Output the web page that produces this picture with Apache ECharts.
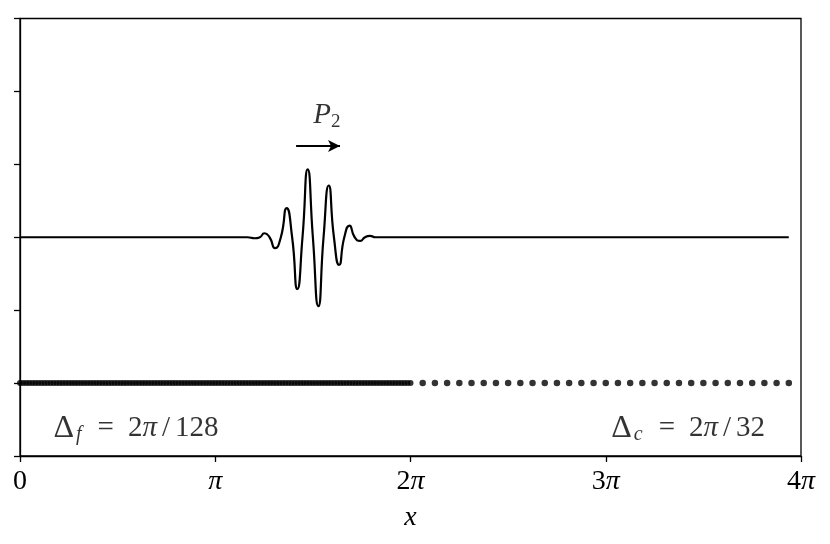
<!DOCTYPE html>
<html>
<head>
<meta charset="utf-8">
<script src="https://cdn.jsdelivr.net/npm/echarts@6/dist/echarts.min.js"></script>
<style>
  html, body { margin: 0; padding: 0; background: #fff; }
  #chart { width: 830px; height: 544px; }
</style>
</head>
<body>
<div id="chart"></div>
<script>
// x is measured in units of pi/64 (the fine grid spacing), so 4pi = 256
const xTicks = [0, 64, 128, 192, 256]
const xTickLabels = ['0', 'π', '2π', '3π', '4π']

// fine grid points, 0 .. 2pi
const fineGridX = [0,1,2,3,4,5,6,7,8,9,10,11,12,13,14,15,16,17,18,19,20,21,22,23,24,25,26,27,28,29,30,31,32,33,34,35,36,37,38,39,40,41,42,43,44,45,46,47,48,49,50,51,52,53,54,55,56,57,58,59,60,61,62,63,64,65,66,67,68,69,70,71,72,73,74,75,76,77,78,79,80,81,82,83,84,85,86,87,88,89,90,91,92,93,94,95,96,97,98,99,100,101,102,103,104,105,106,107,108,109,110,111,112,113,114,115,116,117,118,119,120,121,122,123,124,125,126,127,128]
// coarse grid points, 2pi .. 4pi
const coarseGridX = [132,136,140,144,148,152,156,160,164,168,172,176,180,184,188,192,196,200,204,208,212,216,220,224,228,232,236,240,244,248,252]
const gridRowY = -2

// wave packet (extrema and zero crossings)
const waveX = [0, 70, 74.5, 77.0, 78.6, 80.1, 81.8, 83.6, 85.5, 87.4, 89.2, 90.9, 92.6, 94.3, 96.0, 97.8, 99.5, 101.2, 102.9, 104.6, 106.3, 108.0, 109.7, 111.5, 113.1, 114.7, 116.5, 120, 252]
const waveY = [0, 0, 0, -0.014, 0, 0.055, 0, -0.15, 0, 0.40, 0, -0.71, 0, 0.93, 0, -0.945, 0, 0.71, 0, -0.38, 0, 0.16, 0, -0.05, 0, 0.02, 0, 0, 0]

const chart = echarts.init(document.getElementById('chart'))

const serif = 'Liberation Serif'
const mathRich = {
  m: { fontFamily: serif, fontSize: 29, color: '#000' },
  d: { fontFamily: serif, fontSize: 32, color: '#000', padding: [0, 2, 0, 0] },
  eq: { fontFamily: serif, fontSize: 29, color: '#000', padding: [0, 14, 0, 14] },
  sl: { fontFamily: serif, fontSize: 29, color: '#000', padding: [0, 5, 0, 5] },
  i: { fontFamily: serif, fontSize: 29, fontStyle: 'italic', color: '#000' },
  s: { fontFamily: serif, fontSize: 20, fontStyle: 'italic', color: '#000', padding: [13, 2, 0, 0] },
  n: { fontFamily: serif, fontSize: 19, color: '#000', padding: [13, 0, 0, 0] }
}

const option = {
  animation: false,
  backgroundColor: '#fff',
  grid: {
    left: 20,
    right: 29,
    top: 18.5,
    bottom: 88,
    show: true,
    borderColor: '#000',
    borderWidth: 1.3
  },
  xAxis: {
    type: 'value',
    min: 0,
    max: 256,
    interval: 64,
    name: 'x',
    nameLocation: 'middle',
    nameGap: 48,
    nameTextStyle: { fontFamily: serif, fontSize: 28, fontStyle: 'italic', color: '#000' },
    axisLine: { onZero: false, lineStyle: { color: '#000', width: 1.3 } },
    axisTick: { length: 6, lineStyle: { color: '#000', width: 1.3 } },
    axisLabel: {
      margin: 12,
      fontFamily: serif,
      fontSize: 28,
      color: '#000',
      formatter: function(v) {
        const idx = xTicks.indexOf(v)
        if (idx < 0) return ''
        return xTickLabels[idx].replace('π', '{p|π}')
      },
      rich: {
        p: { fontFamily: serif, fontSize: 28, fontStyle: 'italic', color: '#000' }
      }
    },
    splitLine: { show: false }
  },
  yAxis: {
    type: 'value',
    min: -3,
    max: 3,
    interval: 1,
    axisLine: { show: true, onZero: false, lineStyle: { color: '#000', width: 1.3 } },
    axisTick: { show: true, length: 6, lineStyle: { color: '#000', width: 1.3 } },
    axisLabel: { show: false },
    splitLine: { show: false }
  },
  series: [
    {
      name: 'wave',
      type: 'line',
      data: waveX.map((x, i) => [x, waveY[i]]),
      smooth: 0.6,
      showSymbol: false,
      lineStyle: { color: '#000', width: 2.2 },
      silent: true,
      markLine: {
        silent: true,
        symbol: ['none', 'arrow'],
        symbolSize: [9, 12],
        label: { show: false },
        lineStyle: { color: '#000', width: 1.8, type: 'solid' },
        data: [[{ coord: [90.5, 1.25] }, { coord: [104.9, 1.25] }]]
      }
    },
    {
      name: 'fine',
      type: 'scatter',
      data: fineGridX.map(x => [x, gridRowY]),
      symbolSize: 6,
      itemStyle: { color: '#000' },
      silent: true
    },
    {
      name: 'coarse',
      type: 'scatter',
      data: coarseGridX.map(x => [x, gridRowY]),
      symbolSize: 6.5,
      itemStyle: { color: '#000' },
      silent: true
    },
    {
      name: 'labels',
      type: 'scatter',
      symbolSize: 0,
      silent: true,
      itemStyle: { color: '#000' },
      label: { show: true, position: 'inside', color: '#000', textBorderWidth: 0, rich: mathRich },
      data: [
        { value: [100.6, 1.67], label: { formatter: '{i|P}{n|2}' } },
        { value: [38.0, -2.62], label: { formatter: '{d|Δ}{s|f}{eq|=}{m|2}{i|π}{sl|/}{m|128}' } },
        { value: [219.0, -2.62], label: { formatter: '{d|Δ}{s|c}{eq|=}{m|2}{i|π}{sl|/}{m|32}' } }
      ]
    }
  ]
}

chart.setOption(option)
</script>
</body>
</html>
